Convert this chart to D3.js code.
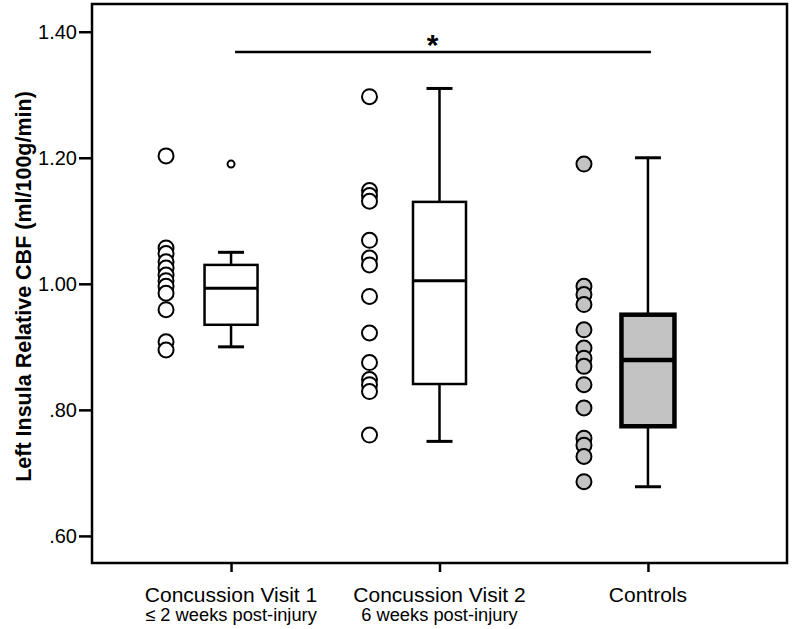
<!DOCTYPE html>
<html>
<head>
<meta charset="utf-8">
<script src="https://cdn.jsdelivr.net/npm/d3@7/dist/d3.min.js"></script>
<style>
  html, body { margin: 0; padding: 0; background: #fff; }
  text { font-family: "Liberation Sans", Arial, sans-serif; }
</style>
</head>
<body>
<svg id="chart" width="792" height="629"></svg>
<script>
// ---- Data ----
const categories = ["Concussion Visit 1", "Concussion Visit 2", "Controls"];
const subLabels = ["\u2264 2 weeks post-injury", "6 weeks post-injury", ""];

const visit1Points = [1.203, 1.057, 1.048, 1.035, 1.025, 1.014, 1.005, 0.996, 0.985, 0.959, 0.908, 0.895];
const visit2Points = [1.297, 1.148, 1.140, 1.131, 1.069, 1.041, 1.030, 0.980, 0.922, 0.875, 0.848, 0.840, 0.829, 0.760];
const controlPoints = [1.190, 0.996, 0.983, 0.967, 0.927, 0.898, 0.882, 0.869, 0.840, 0.803, 0.755, 0.744, 0.726, 0.686];

const whiskerLow  = [0.900, 0.750, 0.678];
const q1          = [0.935, 0.841, 0.774];
const medians     = [0.993, 1.005, 0.879];
const q3          = [1.030, 1.130, 0.951];
const whiskerHigh = [1.050, 1.310, 1.200];
const boxOutliers = [[1.190], [], []];

const yTicks = [0.60, 0.80, 1.00, 1.20, 1.40];
const yTickLabels = [".60", ".80", "1.00", "1.20", "1.40"];
const yTitle = "Left Insula Relative CBF (ml/100g/min)";
const sigFrom = "Concussion Visit 1", sigTo = "Controls", sigMark = "*", sigLevel = 1.368;

// ---- Layout ----
const svg = d3.select("#chart");
const L = 92, R = 787, T = 4, B = 563;

const y = d3.scaleLinear().domain([0.557, 1.444]).range([B, T]);
const x = d3.scalePoint().domain(categories).range([L, R]).padding(0.667);

const groups = [visit1Points, visit2Points, controlPoints];
const dotOffset = [-65, -70, -64];
const boxW = 53, capW = 26;
const boxFill = ["#fff", "#fff", "#c3c3c3"];
const boxStroke = [2.5, 2.5, 4.5];
const dotFill = ["#fff", "#fff", "#c3c3c3"];

// Frame
svg.append("rect").attr("x", L).attr("y", T).attr("width", R - L).attr("height", B - T)
  .attr("fill", "none").attr("stroke", "#000").attr("stroke-width", 2.5);

// Y axis
const yAxis = d3.axisLeft(y).tickValues(yTicks).tickSize(13)
  .tickFormat((d, i) => yTickLabels[i]);
const gy = svg.append("g").attr("transform", `translate(${L},0)`).call(yAxis);
gy.select(".domain").remove();
gy.selectAll(".tick line").attr("stroke", "#000").attr("stroke-width", 2.5);
gy.selectAll(".tick text").attr("font-size", 20).attr("fill", "#000").attr("x", -15)
  .attr("font-family", "Liberation Sans, Arial, sans-serif");

// X axis
const xAxis = d3.axisBottom(x).tickSize(9).tickFormat("");
const gx = svg.append("g").attr("transform", `translate(0,${B})`).call(xAxis);
gx.select(".domain").remove();
gx.selectAll(".tick line").attr("stroke", "#000").attr("stroke-width", 2.5);

// X labels
categories.forEach((c, i) => {
  svg.append("text").attr("x", x(c)).attr("y", 602).attr("text-anchor", "middle")
    .attr("font-size", 21).attr("fill", "#000").text(c);
  if (subLabels[i]) {
    svg.append("text").attr("x", x(c)).attr("y", 621).attr("text-anchor", "middle")
      .attr("font-size", 18.3).attr("fill", "#000").text(subLabels[i]);
  }
});

// Y title
svg.append("text").attr("transform", `translate(31,${(T + B) / 2 + 3}) rotate(-90)`)
  .attr("text-anchor", "middle").attr("font-size", 21.5).attr("font-weight", "bold")
  .attr("fill", "#000").text(yTitle);

// Boxes
categories.forEach((c, i) => {
  const cx = x(c);
  const g = svg.append("g");
  const sw = boxStroke[i];
  g.append("line").attr("x1", cx).attr("x2", cx).attr("y1", y(q3[i])).attr("y2", y(whiskerHigh[i]))
    .attr("stroke", "#000").attr("stroke-width", 2.5);
  g.append("line").attr("x1", cx).attr("x2", cx).attr("y1", y(q1[i])).attr("y2", y(whiskerLow[i]))
    .attr("stroke", "#000").attr("stroke-width", 2.5);
  [whiskerHigh[i], whiskerLow[i]].forEach(v => {
    g.append("line").attr("x1", cx - capW / 2).attr("x2", cx + capW / 2).attr("y1", y(v)).attr("y2", y(v))
      .attr("stroke", "#000").attr("stroke-width", 3);
  });
  g.append("rect").attr("x", cx - boxW / 2).attr("y", y(q3[i])).attr("width", boxW)
    .attr("height", y(q1[i]) - y(q3[i])).attr("fill", boxFill[i])
    .attr("stroke", "#000").attr("stroke-width", sw);
  g.append("line").attr("x1", cx - boxW / 2).attr("x2", cx + boxW / 2)
    .attr("y1", y(medians[i])).attr("y2", y(medians[i]))
    .attr("stroke", "#000").attr("stroke-width", i === 2 ? 4.5 : 3);
  boxOutliers[i].forEach(v => {
    g.append("circle").attr("cx", cx).attr("cy", y(v)).attr("r", 3.5)
      .attr("fill", "#fff").attr("stroke", "#000").attr("stroke-width", 2);
  });
});

// Dots
groups.forEach((pts, i) => {
  const cx = x(categories[i]) + dotOffset[i];
  svg.append("g").selectAll("circle").data(pts).join("circle")
    .attr("cx", cx).attr("cy", d => y(d)).attr("r", 7.5)
    .attr("fill", dotFill[i]).attr("stroke", "#000").attr("stroke-width", 2);
});

// Significance bar
svg.append("line").attr("x1", x(sigFrom) + 4).attr("x2", x(sigTo) + 3)
  .attr("y1", y(sigLevel)).attr("y2", y(sigLevel))
  .attr("stroke", "#000").attr("stroke-width", 2.5);
svg.append("text").attr("x", (x(sigFrom) + x(sigTo)) / 2 - 7).attr("y", y(sigLevel) + 3)
  .attr("text-anchor", "middle").attr("font-size", 30).attr("font-weight", "bold")
  .attr("fill", "#000").text(sigMark);
</script>
</body>
</html>
